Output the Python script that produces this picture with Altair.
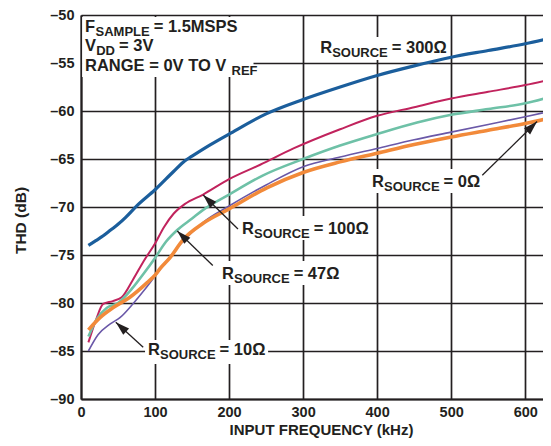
import math
import altair as alt
import pandas as pd

# ---------------- data ----------------
freq_300 = [10, 20, 30, 40, 50, 60, 75, 100, 125, 140, 150, 175, 200, 250, 300, 350, 400, 450, 500, 550, 600, 635]
thd_300 = [-74.0, -73.5, -73.0, -72.4, -71.8, -71.1, -69.9, -68.2, -66.3, -65.2, -64.7, -63.5, -62.4, -60.3, -58.8, -57.5, -56.3, -55.3, -54.4, -53.7, -53.0, -52.4]

freq_100 = [10, 20, 30, 43, 55, 70, 85, 100, 112, 125, 140, 165, 200, 242, 287, 350, 400, 450, 500, 550, 600, 635]
thd_100 = [-84.1, -81.8, -80.1, -79.8, -79.4, -77.6, -75.6, -73.8, -72.1, -70.7, -69.7, -68.7, -67.1, -65.6, -63.9, -61.9, -60.5, -59.6, -58.7, -58.0, -57.3, -56.7]

freq_47 = [10, 21, 35, 50, 70, 85, 100, 115, 130, 150, 165, 200, 246, 300, 350, 400, 454, 500, 550, 600, 635]
thd_47 = [-83.5, -81.7, -80.5, -80.0, -78.4, -76.9, -75.3, -73.6, -72.4, -71.2, -70.3, -68.7, -66.7, -65.0, -63.6, -62.4, -61.2, -60.4, -59.8, -59.2, -58.5]

freq_10 = [10, 23, 39, 53, 70, 85, 100, 116, 134, 165, 200, 250, 300, 350, 400, 450, 500, 550, 600, 635]
thd_10 = [-85.0, -83.3, -82.2, -81.5, -80.1, -78.7, -77.2, -75.6, -73.9, -71.6, -69.9, -67.7, -65.8, -64.8, -63.9, -63.0, -62.2, -61.4, -60.6, -60.0]

freq_0 = [10, 26, 43, 66, 89, 100, 107, 120, 138, 165, 200, 251, 300, 350, 400, 450, 500, 550, 600, 635]
thd_0 = [-82.8, -81.5, -80.5, -79.4, -77.9, -77.1, -76.4, -75.3, -73.4, -71.7, -70.2, -68.0, -66.4, -65.3, -64.4, -63.5, -62.7, -62.0, -61.3, -60.7]

x_ticks = [0, 100, 200, 300, 400, 500, 600]
y_ticks = [-90, -85, -80, -75, -70, -65, -60, -55, -50]

# annotation texts and anchors (data units)
label_x = [5.4, 5.4, 5.4, 323, 393, 217.6, 190.5, 90.5]
label_y = [-51.77, -53.8, -55.83, -53.96, -67.92, -72.81, -77.5, -85.42]
label_main = ["F", "V", "RANGE = 0V TO V", "R", "R", "R", "R", "R"]
label_sub = ["SAMPLE", "DD", "REF", "SOURCE", "SOURCE", "SOURCE", "SOURCE", "SOURCE"]
label_rest = ["= 1.5MSPS", "= 3V", "", "= 300Ω", "= 0Ω", "= 100Ω", "= 47Ω", "= 10Ω"]

# arrows: tail -> tip (data units)
arrow_x = [212, 178, 84, 542]
arrow_y = [-72.3, -76.1, -84.6, -66.7]
arrow_x2 = [165, 130, 47, 616]
arrow_y2 = [-68.75, -72.5, -82.0, -61.1]

# white label backgrounds (data units)
box_x = [1.5, 319, 389, 213.5, 186.5, 86.5]
box_x2 = [233, 496, 540.5, 389, 350, 252.7]
box_y = [-50.2, -52.3, -66.04, -70.94, -75.63, -83.85]
box_y2 = [-56.46, -54.7, -68.54, -73.44, -78.13, -86.35]

# ---------------- layout / style ----------------
W, H = 462, 384
XMAX = 624
PXK = W / XMAX          # px per kHz
PXD = H / 40.0          # px per dB
INK = "#231f20"
FONT = "Liberation Sans"
MAIN_FS = 16.5
SUB_FS = 13
TICK_FS = 14.5

xs = alt.Scale(domain=[0, XMAX], nice=False, zero=False)
ys = alt.Scale(domain=[-90, -50], nice=False, zero=False)

X_AXIS = alt.Axis(
    values=x_ticks, grid=True, gridColor=INK, gridWidth=1.7, gridOpacity=1,
    domain=True, domainColor=INK, domainWidth=2, ticks=False,
    labelFont=FONT, labelFontWeight="bold", labelFontSize=TICK_FS, labelColor=INK,
    labelPadding=6, labelFlush=False,
    title="INPUT FREQUENCY (kHz)", titleFont=FONT, titleFontWeight="bold",
    titleFontSize=15, titleColor=INK, titleBaseline="alphabetic", titleY=35,
    titleX=240, titleAlign="center")
Y_AXIS = alt.Axis(
    values=y_ticks, grid=True, gridColor=INK, gridWidth=1.7, gridOpacity=1,
    domain=True, domainColor=INK, domainWidth=2, ticks=False,
    labelFont=FONT, labelFontWeight="bold", labelFontSize=TICK_FS, labelColor=INK,
    labelPadding=7, labelFlush=False,
    labelExpr="'\u2013' + format(abs(datum.value), 'd')",
    title="THD (dB)", titleFont=FONT, titleFontWeight="bold", titleFontSize=15.5,
    titleColor=INK, titleAngle=270, titleX=-61, titleY=205,
    titleAlign="center", titleBaseline="middle")


def X(field):
    return alt.X(field, type="quantitative", scale=xs, axis=X_AXIS)


def Y(field):
    return alt.Y(field, type="quantitative", scale=ys, axis=Y_AXIS)


sub_dx_px = [10.5, 11.2, 146.5, 12, 12, 12, 12, 12]
rest_dx_px = [68.7, 34, 0, 71.6, 71.6, 71.6, 71.6, 71.6]
SUB_DY_PX = 4

series = [
    (freq_300, thd_300, "#1b5e9c", 3.2),
    (freq_100, thd_100, "#c1235d", 2.0),
    (freq_47, thd_47, "#6ec1a7", 2.6),
    (freq_10, thd_10, "#6a58a8", 1.6),
    (freq_0, thd_0, "#f28a3a", 3.6),
]

# boxes (white backgrounds behind the annotations)
box_df = pd.DataFrame({"x": box_x, "x2": box_x2, "y": box_y, "y2": box_y2})
layers = [
    alt.Chart(box_df).mark_rect(color="white").encode(
        x=X("x"), x2="x2:Q", y=Y("y"), y2="y2:Q")
]

for fx, fy, col, sw in series:
    df = pd.DataFrame({"x": fx, "y": fy})
    layers.append(
        alt.Chart(df).mark_line(color=col, strokeWidth=sw, interpolate="monotone",
                                clip=True).encode(x=X("x"), y=Y("y"))
    )

# arrows
arr_df = pd.DataFrame({"x": arrow_x, "y": arrow_y, "x2": arrow_x2, "y2": arrow_y2})
arr_df["ang"] = [
    math.degrees(math.atan2((b - a) * PXK, (d - c) * PXD)) % 360
    for a, b, c, d in zip(arrow_x, arrow_x2, arrow_y, arrow_y2)
]
layers.append(
    alt.Chart(arr_df).mark_rule(color=INK, strokeWidth=1.3).encode(
        x=X("x"), y=Y("y"), x2="x2:Q", y2="y2:Q")
)
tips = arr_df[["x2", "y2", "ang"]].rename(columns={"x2": "x", "y2": "y"})
layers.append(
    alt.Chart(tips).mark_point(
        shape="M0,0L0.62,2L-0.62,2Z", filled=True, size=196, color=INK, opacity=1,
        strokeWidth=0).encode(
        x=X("x"), y=Y("y"), angle=alt.Angle("ang:Q", scale=None))
)

# texts
main_df = pd.DataFrame({"x": label_x, "y": label_y, "t": label_main})
sub_df = pd.DataFrame({
    "x": [a + d / PXK for a, d in zip(label_x, sub_dx_px)],
    "y": [b - SUB_DY_PX / PXD for b in label_y],
    "t": label_sub})
rest_df = pd.DataFrame({
    "x": [a + d / PXK for a, d in zip(label_x, rest_dx_px)],
    "y": label_y, "t": label_rest})
rest_df = rest_df[rest_df["t"] != ""]

for df, fs in [(main_df, MAIN_FS), (sub_df, SUB_FS), (rest_df, MAIN_FS)]:
    layers.append(
        alt.Chart(df).mark_text(align="left", baseline="alphabetic", font=FONT,
                                fontWeight="bold", fontSize=fs, color=INK).encode(
            x=X("x"), y=Y("y"), text="t:N")
    )

chart = alt.layer(*layers).properties(
    width=W, height=H,
    autosize=alt.AutoSizeParams(type="none"),
    padding={"left": 73, "top": 7, "right": 0, "bottom": 39},
    background="white",
).configure_view(strokeWidth=0)

chart.save("out.html", embed_options={"renderer": "svg", "actions": False})
